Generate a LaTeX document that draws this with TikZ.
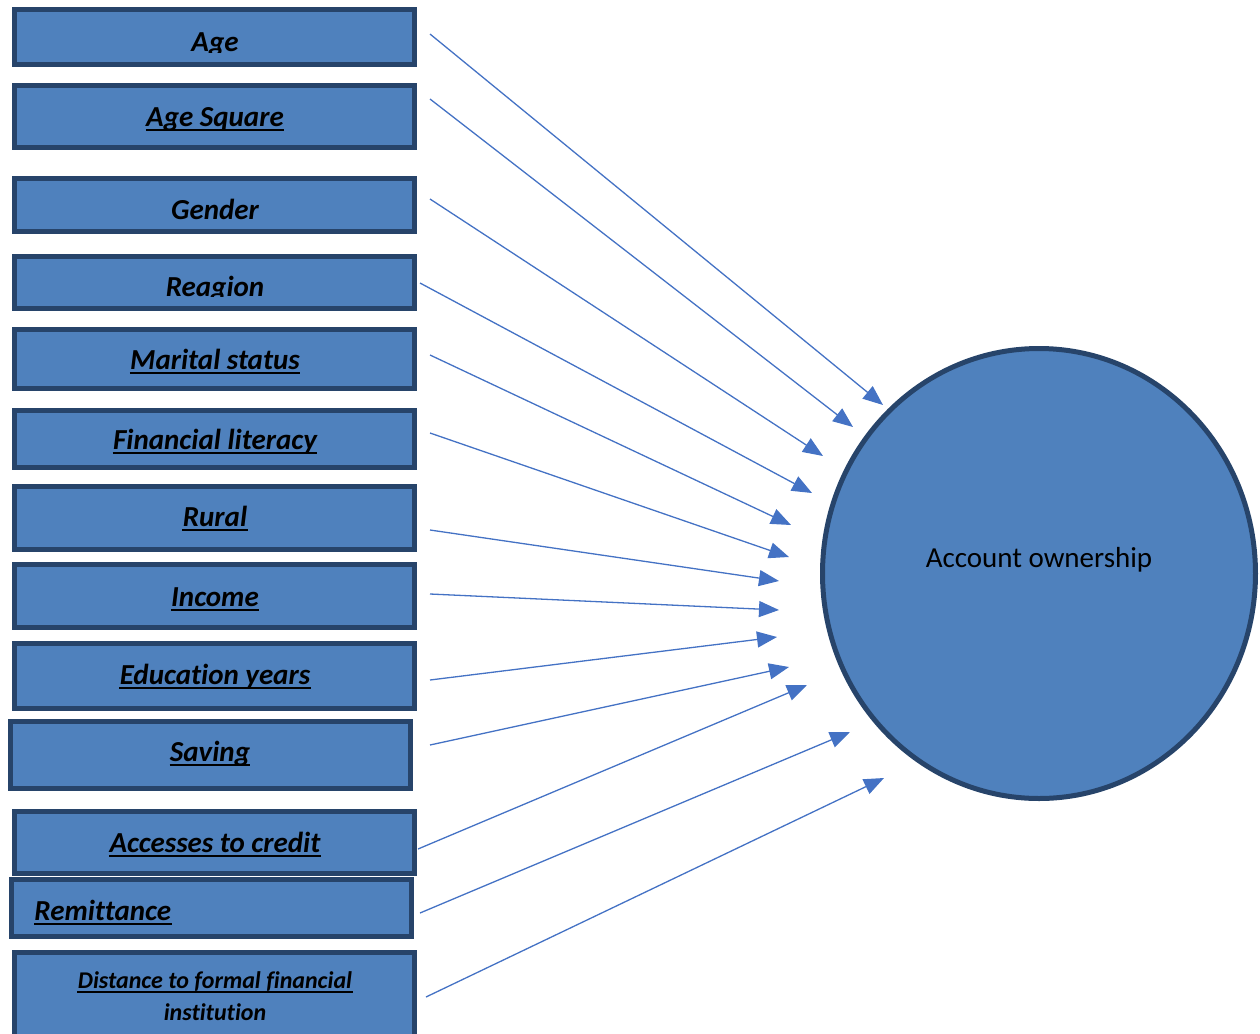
\documentclass[tikz,border=0pt]{standalone}
\usepackage{fontspec}
\setmainfont{Carlito}[Ligatures=NoCommon]
\usetikzlibrary{arrows.meta,shapes.geometric}

\definecolor{boxblue}{HTML}{4F81BD}
\definecolor{boxline}{HTML}{27446A}
\definecolor{arrowblue}{HTML}{4472C4}

\tikzset{
  factor/.style={rectangle, draw=boxline, fill=boxblue, line width=2.5pt, minimum width=200pt, inner sep=0},
  factortext/.style={anchor=base, inner sep=0, font=\fontsize{14.5}{17}\selectfont\bfseries\itshape},
  underlined/.style={append after command={\pgfextra{\let\ulnode=\tikzlastnode}
      ([yshift=-2pt]\ulnode.base west) edge[draw, black, line width=1.1pt] ([yshift=-2pt]\ulnode.base east)}},
  outcome/.style={ellipse, draw=boxline, fill=boxblue, line width=2.5pt, minimum width=216.5pt, minimum height=225pt, inner sep=0},
  link/.style={-{Triangle[length=10pt,width=8pt]}, line width=0.65pt, color=arrowblue}
}

\begin{document}
\begin{tikzpicture}[x=0.5pt, y=-0.5pt]
      \useasboundingbox (0,0) rectangle (1260,1034);
      % explanatory variables
      \node [factor, minimum height=27.5pt] (age) at (214.5,37) {};
      \node [factor, minimum height=31pt] (agesq) at (214.5,116.5) {};
      \node [factor, minimum height=26.5pt] (gender) at (214.5,205) {};
      \node [factor, minimum height=26pt] (region) at (214.5,282.5) {};
      \node [factor, minimum height=29.5pt] (marital) at (214.5,359) {};
      \node [factor, minimum height=28.5pt] (literacy) at (214.5,439) {};
      \node [factor, minimum height=31.5pt] (rural) at (214.5,518) {};
      \node [factor, minimum height=31.5pt] (income) at (214.5,596) {};
      \node [factor, minimum height=32.5pt] (educ) at (214.5,676) {};
      \node [factor, minimum height=33.5pt] (saving) at (210.5,755) {};
      \node [factor, minimum height=31pt] (credit) at (214.5,842.5) {};
      \node [factor, minimum height=28.5pt] (remit) at (211.5,908) {};
      \node [factor, minimum height=42.5pt] (dist) at (214.5,995) {};

      \begin{scope}
        \clip (0,0) rectangle (420,52);
        \node [factortext] (age-t) at (215,51) {Age};
      \end{scope}
      \node [factortext, underlined] (agesq-t) at (215,126) {Age Square};
      \node [factortext] (gender-t) at (215,219) {Gender};
      \begin{scope}
        \clip (0,240) rectangle (420,296.5);
        \node [factortext] (region-t) at (215,296) {Reagion};
      \end{scope}
      \node [factortext, underlined] (marital-t) at (215,369) {Marital status};
      \node [factortext, underlined] (literacy-t) at (215,449) {Financial literacy};
      \node [factortext, underlined] (rural-t) at (215,526) {Rural};
      \node [factortext, underlined] (income-t) at (215,606) {Income};
      \node [factortext, underlined] (educ-t) at (215,684) {Education years};
      \node [factortext, underlined] (saving-t) at (210,761) {Saving};
      \node [factortext, underlined] (credit-t) at (215,852) {Accesses to credit};
      \node [factortext, anchor=base west, underlined] (remit-t) at (34,920) {Remittance};
      \node [factortext, font=\fontsize{12}{14}\selectfont\bfseries\itshape, underlined] (dist-t) at (215,988) {Distance to formal financial};
      \node [factortext, font=\fontsize{12}{14}\selectfont\bfseries\itshape] (dist-t2) at (215,1020) {institution};

      % dependent variable
      \node [outcome] (own) at (1039,573.5) {};
      \node [anchor=base, inner sep=0, font=\fontsize{14.5}{17}\selectfont] (own-t) at (1039,567) {Account ownership};

      % arrow ends
      \coordinate (age-o) at (430,34);       \coordinate (age-i) at (883,405);
      \coordinate (agesq-o) at (430,99);     \coordinate (agesq-i) at (853,427);
      \coordinate (gender-o) at (430,199);   \coordinate (gender-i) at (823,456);
      \coordinate (region-o) at (420,283);   \coordinate (region-i) at (812,493);
      \coordinate (marital-o) at (430,355);  \coordinate (marital-i) at (791,525);
      \coordinate (literacy-o) at (430,433); \coordinate (literacy-i) at (789,557);
      \coordinate (rural-o) at (430,530);    \coordinate (rural-i) at (779,581);
      \coordinate (income-o) at (430,594);   \coordinate (income-i) at (779,610);
      \coordinate (educ-o) at (430,680);     \coordinate (educ-i) at (777,637);
      \coordinate (saving-o) at (430,745);   \coordinate (saving-i) at (789,667);
      \coordinate (credit-o) at (418,849);   \coordinate (credit-i) at (807,685);
      \coordinate (remit-o) at (420,913);    \coordinate (remit-i) at (850,732);
      \coordinate (dist-o) at (426,997);     \coordinate (dist-i) at (884,778);

      \foreach \v in {age,agesq,gender,region,marital,literacy,rural,income,educ,saving,credit,remit,dist}
        \draw [link] (\v-o) -- (\v-i);
\end{tikzpicture}
\end{document}
